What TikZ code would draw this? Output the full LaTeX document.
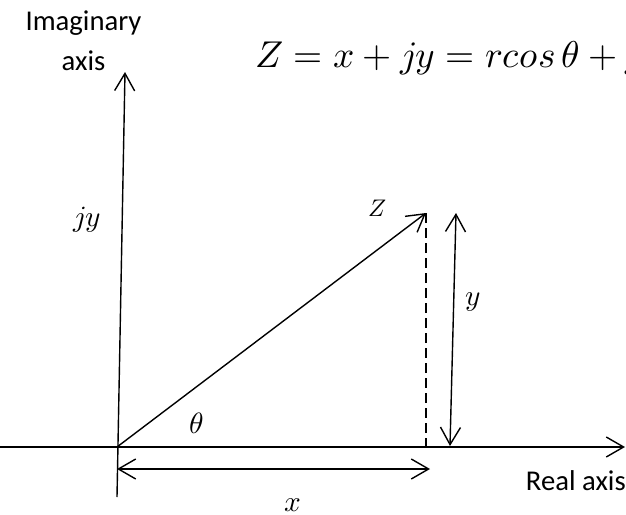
\documentclass[tikz,border=0pt]{standalone}
\usepackage{fontspec}
\usepackage{unicode-math}
\setmainfont{Carlito}
\setmathfont{Latin Modern Math}
\usetikzlibrary{arrows.meta}
\begin{document}
\begin{tikzpicture}[x=0.75pt,y=-0.75pt,
  ln/.style={line width=1.05pt},
  >={Straight Barb[length=13pt,width=15pt,line width=1.05pt]},
  lbl/.style={font=\fontsize{21.5}{24}\selectfont, inner sep=0pt},
  eqf/.style={font=\fontsize{28}{31}\selectfont, inner sep=0pt},
  mlbl/.style={font=\fontsize{22}{26}\selectfont, inner sep=0pt},
  zlbl/.style={font=\fontsize{18}{22}\selectfont, inner sep=0pt}]
\useasboundingbox (0,0) rectangle (626,515);
\clip (0,0) rectangle (626,515);
% points
\coordinate (O) at (117,447);
\coordinate (ytop) at (125,72);
\coordinate (ybot) at (117,497);
\coordinate (xl) at (0,447);
\coordinate (xr) at (625,447);
\coordinate (Zp) at (426,213);
\coordinate (D) at (426,447);
\coordinate (yt) at (456,213);
\coordinate (yb) at (450,446);
\coordinate (xa) at (117,469);
\coordinate (xb) at (430,469);
% axes
\draw[ln,->] (xl) -- (xr);
\draw[ln,->] (ybot) -- (ytop);
% vector and components
\draw[ln,->] (O) -- (Zp);
\draw[ln,dash pattern=on 7.5pt off 3.75pt] (Zp) -- (D);
\draw[ln,<->] (yt) -- (yb);
\draw[ln,<->] (xa) -- (xb);
% labels
\node[lbl,anchor=base] (im) at (83.5,30) {Imaginary};
\node[lbl,anchor=base] (ax) at (83.5,70) {axis};
\node[lbl,anchor=base east] (re) at (626,490) {Real axis};
\node[eqf,anchor=base west] (eq) at (255,67) {$Z=x+jy=rcos\,\theta+jrsin\,\theta$};
\node[mlbl] (jy) at (87,220) {$jy$};
\node[zlbl] (Zl) at (378,208) {$Z$};
\node[mlbl] (yl) at (473,302) {$y$};
\node[mlbl] (th) at (197,423) {$\theta$};
\node[mlbl] (xl2) at (293,505) {$x$};
\end{tikzpicture}
\end{document}
